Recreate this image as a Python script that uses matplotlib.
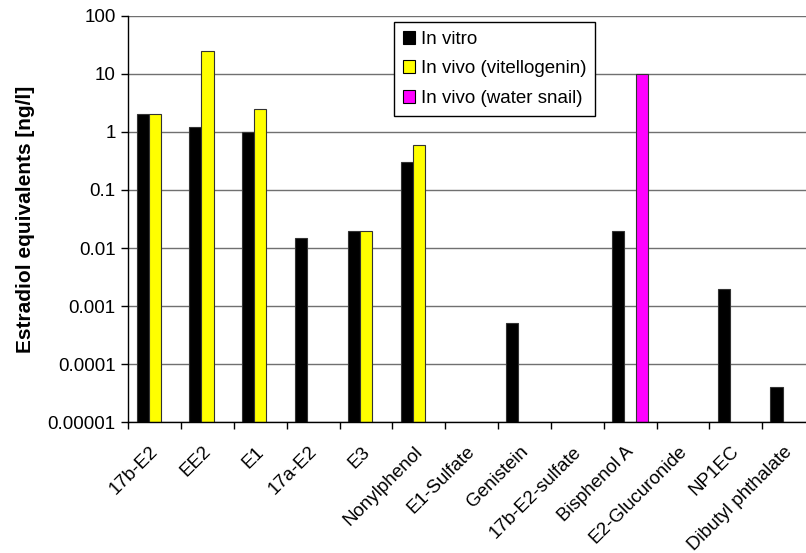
import numpy as np
import matplotlib
matplotlib.use('Agg')
import matplotlib.pyplot as plt
from matplotlib.transforms import ScaledTranslation

plt.rcParams['font.family'] = ['Liberation Sans', 'DejaVu Sans']
plt.rcParams['font.size'] = 13.5

compounds = ['17b-E2', 'EE2', 'E1', '17a-E2', 'E3', 'Nonylphenol', 'E1-Sulfate',
             'Genistein', '17b-E2-sulfate', 'Bisphenol A', 'E2-Glucuronide',
             'NP1EC', 'Dibutyl phthalate']

# estradiol equivalents in ng/l, None = not measured
in_vitro = [2, 1.2, 1, 0.015, 0.02, 0.3, None, 0.0005, None, 0.02, None, 0.002, 0.00003]
in_vivo_vtg = [2, 25, 2.5, None, 0.02, 0.6, None, None, None, None, None, None, None]
in_vivo_snail = [None, None, None, None, None, None, None, None, None, 10, None, None, None]

ytick_vals = [1e-5, 1e-4, 1e-3, 1e-2, 1e-1, 1, 10, 100]
ytick_labels = ['0.00001', '0.0001', '0.001', '0.01', '0.1', '1', '10', '100']

series = [
    (in_vitro, 'In vitro', 'black', -1),
    (in_vivo_vtg, 'In vivo (vitellogenin)', '#ffff00', 0),
    (in_vivo_snail, 'In vivo (water snail)', '#ff00ff', 1),
]

fig = plt.figure(figsize=(8.06, 5.53), dpi=100)
# the plot area runs past the right edge of the figure
ax = fig.add_axes([0.1592, 0.2363, 0.852, 0.7353])

w = 0.23
x = np.arange(len(compounds))
for vals, name, col, k in series:
    xs = [xi + k * w for xi, v in zip(x, vals) if v is not None]
    hs = [v for v in vals if v is not None]
    ax.bar(xs, hs, width=w, bottom=1e-5, color=col, edgecolor='#333333',
           linewidth=0.8, label=name, zorder=3)

ax.set_yscale('log')
ax.set_ylim(1e-5, 100)
ax.set_xlim(-0.5, len(compounds) - 0.5)
ax.set_yticks(ytick_vals)
ax.set_yticklabels(ytick_labels)
ax.yaxis.set_minor_locator(plt.NullLocator())
ax.tick_params(axis='y', direction='out', length=5, width=1, pad=4)

ax.set_xticks(x)
ax.set_xticklabels(compounds, rotation=45, ha='right', rotation_mode='anchor')
ax.set_xticks(np.arange(-0.5, len(compounds)), minor=True)
ax.tick_params(axis='x', which='major', length=0, pad=15)
ax.tick_params(axis='x', which='minor', direction='out', length=5, width=1)
shift = ScaledTranslation(-5 / 100, 0, fig.dpi_scale_trans)
for lab in ax.get_xticklabels():
    lab.set_transform(lab.get_transform() + shift)

ax.grid(axis='y', color='#707070', linewidth=1, zorder=0)
for s in ['top', 'right']:
    ax.spines[s].set_visible(False)
for s in ['left', 'bottom']:
    ax.spines[s].set_linewidth(1)
    ax.spines[s].set_zorder(4)

ax.set_ylabel('Estradiol equivalents [ng/l]', fontweight='bold', fontsize=15)
ax.yaxis.set_label_coords(-0.136, 0.5)

leg = ax.legend(loc='upper left', bbox_to_anchor=(0.4892, 0.9597),
                bbox_transform=fig.transFigure, borderaxespad=0,
                fancybox=False, edgecolor='black', framealpha=1,
                handlelength=0.68, handleheight=0.68, handletextpad=0.3,
                labelspacing=0.68, borderpad=0.45)
leg.get_frame().set_linewidth(1)
for h in leg.legend_handles:
    h.set_edgecolor('black')

fig.savefig('out.png', dpi=100)
